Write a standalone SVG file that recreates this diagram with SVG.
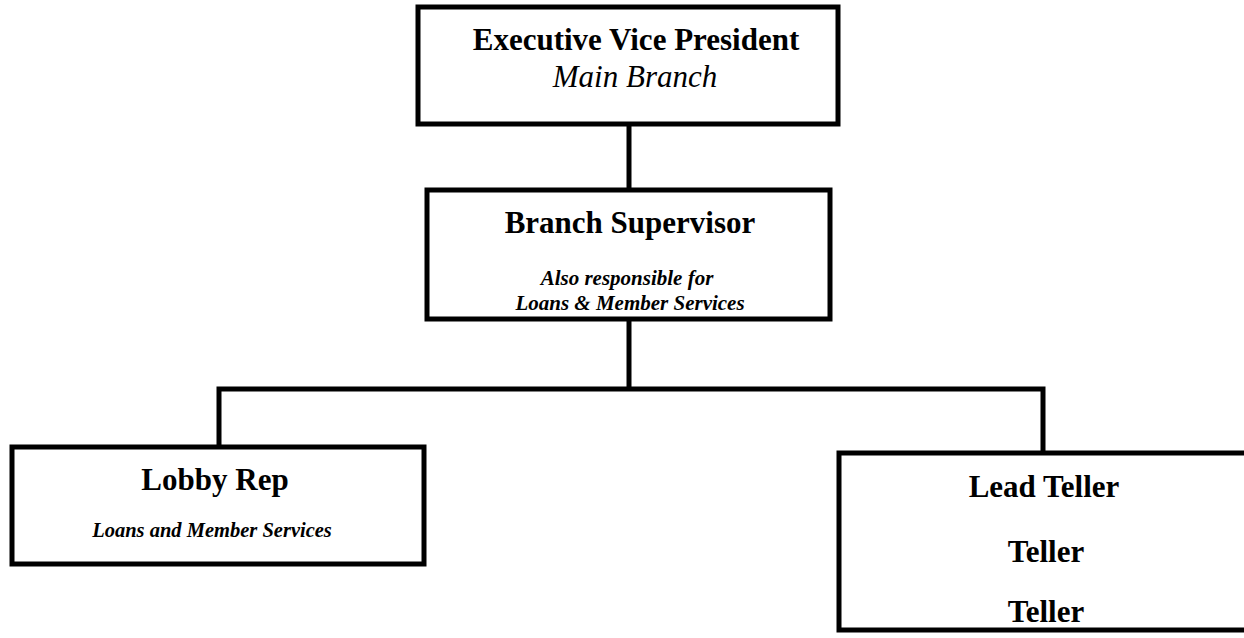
<svg xmlns="http://www.w3.org/2000/svg" width="1244" height="638" viewBox="0 0 1244 638">
<style>
.box{fill:#fff;stroke:#000;stroke-width:5}
.conn{fill:none;stroke:#000;stroke-width:5}
text{font-family:"Liberation Serif","Times New Roman",serif;fill:#000;text-anchor:middle}
.t{font-size:31px;font-weight:bold}
.i{font-size:31px;font-style:italic}
.s{font-size:21px;font-weight:bold;font-style:italic}
</style>
<rect width="1244" height="638" fill="#fff"/>
<g id="connectors">
<line class="conn" x1="629" y1="124" x2="629" y2="190"/>
<polyline class="conn" points="219,447 219,389 1043,389 1043,453"/>
<line class="conn" x1="629" y1="319" x2="629" y2="389"/>
</g>
<g id="evp">
<rect class="box" x="418" y="7" width="420" height="117"/>
<text class="t" x="636" y="50">Executive Vice President</text>
<text class="i" x="635" y="87">Main Branch</text>
</g>
<g id="supervisor">
<rect class="box" x="427" y="190" width="403" height="129"/>
<text class="t" x="630" y="233">Branch Supervisor</text>
<text class="s" x="627" y="285">Also responsible for</text>
<text class="s" x="630" y="310">Loans &amp; Member Services</text>
</g>
<g id="lobby">
<rect class="box" x="12" y="447" width="412" height="117"/>
<text class="t" x="215" y="490">Lobby Rep</text>
<text class="s" x="212" y="537" style="font-size:20.5px">Loans and Member Services</text>
</g>
<g id="tellers">
<rect class="box" x="839" y="453" width="410" height="177"/>
<text class="t" x="1044" y="497">Lead Teller</text>
<text class="t" x="1046" y="562">Teller</text>
<text class="t" x="1046" y="622">Teller</text>
</g>
</svg>
